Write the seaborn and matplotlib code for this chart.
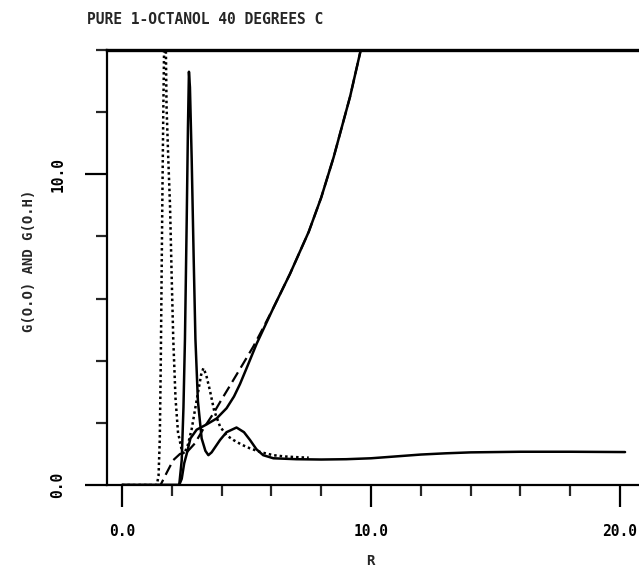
import matplotlib
matplotlib.use("Agg")
import matplotlib.pyplot as plt
import seaborn as sns
from matplotlib.ticker import MultipleLocator

# INPUT VALUES
title = "PURE 1-OCTANOL 40 DEGREES C"
x_label = "R"
y_label = "G(O.O) AND G(O.H)"

# dotted curve: G(O.H)
r_oh = [0.0, 1.40, 1.47, 1.52, 1.56, 1.59, 1.62, 1.66, 1.70, 1.75, 1.79, 1.86, 1.93, 2.00,
        2.06, 2.15, 2.25, 2.40, 2.50, 2.65, 2.80, 2.95, 3.07, 3.18, 3.27, 3.38, 3.53,
        3.70, 3.94, 4.20, 4.47, 4.80, 5.14, 5.60, 6.08, 6.50, 7.15, 7.50]
g_oh = [0.0, 0.0, 0.3, 1.5, 4.0, 6.5, 9.0, 12.0, 14.5, 15.0, 12.2, 10.5, 9.0, 6.6,
        4.7, 2.8, 1.7, 1.13, 1.0, 1.3, 1.8, 2.5, 3.05, 3.55, 3.76, 3.55, 3.05,
        2.4, 1.88, 1.6, 1.45, 1.3, 1.18, 1.05, 0.96, 0.92, 0.89, 0.88]

# solid curve: G(O.O)
r_oo = [0.0, 2.30, 2.40, 2.47, 2.53, 2.60, 2.65, 2.69, 2.73, 2.80, 2.88, 2.95, 3.05,
        3.20, 3.35, 3.47, 3.60, 3.94, 4.20, 4.60, 4.90, 5.14, 5.40, 5.67, 6.08, 7.0,
        8.0, 9.0, 10.0, 11.0, 12.0, 13.0, 14.0, 15.0, 16.0, 18.0, 20.2]
g_oo = [0.0, 0.0, 0.8, 2.5, 4.7, 8.5, 11.5, 13.3, 12.8, 10.5, 7.3, 4.7, 2.7,
        1.5, 1.1, 0.96, 1.05, 1.45, 1.7, 1.85, 1.7, 1.45, 1.15, 0.96, 0.86, 0.83,
        0.82, 0.83, 0.86, 0.92, 0.98, 1.02, 1.05, 1.06, 1.07, 1.07, 1.06]

# solid running integral (O.O)
r_noo = [0.0, 2.30, 2.40, 2.50, 2.60, 2.75, 3.00, 3.40, 3.80, 4.20, 4.50, 4.74, 5.00,
         5.41, 6.08, 6.75, 7.50, 8.00, 8.50, 9.16, 9.56, 9.80]
n_oo = [0.0, 0.0, 0.2, 0.7, 1.0, 1.5, 1.78, 1.95, 2.14, 2.47, 2.85, 3.25, 3.75,
        4.55, 5.7, 6.8, 8.15, 9.25, 10.55, 12.5, 13.9, 14.8]

# dashed running integral (O.H)
r_noh = [0.0, 1.55, 1.80, 2.06, 2.33, 2.60, 2.93, 3.30, 3.67, 4.00, 4.34, 4.87, 5.27,
         5.60, 6.08, 6.75, 7.50, 8.00, 8.50, 9.16, 9.56, 9.80]
n_oh = [0.0, 0.0, 0.4, 0.8, 1.0, 1.05, 1.34, 1.85, 2.3, 2.75, 3.2, 3.91, 4.45,
        4.95, 5.7, 6.8, 8.15, 9.25, 10.55, 12.5, 13.9, 14.8]

sns.set_style("ticks")
plt.rcParams['font.family'] = ['DejaVu Sans Mono', 'DejaVu Sans']
plt.rcParams['font.weight'] = 'bold'

fig = plt.figure(figsize=(6.39, 5.70), dpi=100)
ax = fig.add_axes([107 / 639, 85 / 570, 1 - 107 / 639, 435 / 570])

# Plot curves
sns.lineplot(x=r_oo, y=g_oo, ax=ax, color='black', linewidth=1.8, sort=False, estimator=None)
sns.lineplot(x=r_noo, y=n_oo, ax=ax, color='black', linewidth=1.8, sort=False, estimator=None)
sns.lineplot(x=r_oh, y=g_oh, ax=ax, color='black', linewidth=1.8, linestyle=(0, (1, 1.2)),
             sort=False, estimator=None)
sns.lineplot(x=r_noh, y=n_oh, ax=ax, color='black', linewidth=1.6, linestyle=(0, (5, 2.5)),
             sort=False, estimator=None)

ax.set_xlim(-0.6, 20.76)
ax.set_ylim(0, 14)

ax.xaxis.set_major_locator(MultipleLocator(10))
ax.xaxis.set_minor_locator(MultipleLocator(2))
ax.yaxis.set_major_locator(MultipleLocator(10))
ax.yaxis.set_minor_locator(MultipleLocator(2))
ax.xaxis.set_major_formatter(plt.FuncFormatter(lambda v, p: "%.1f" % v))
ax.yaxis.set_major_formatter(plt.FuncFormatter(lambda v, p: "%.1f" % v))

ax.tick_params(axis='both', which='major', length=16, width=1.6, direction='out',
               labelsize=10.5, colors='black')
ax.tick_params(axis='both', which='minor', length=8, width=1.6, direction='out')
ax.tick_params(axis='x', which='major', pad=12)
ax.tick_params(axis='y', which='major', pad=14, labelrotation=90)
for lbl in ax.get_yticklabels():
    lbl.set_va('center')

for side in ['left', 'bottom']:
    ax.spines[side].set_linewidth(1.6)
    ax.spines[side].set_color('black')
ax.spines['top'].set_linewidth(2.4)
ax.spines['top'].set_color('black')
ax.spines['right'].set_visible(False)

ax.set_xlabel("")
ax.set_ylabel("")
fig.text(87 / 639, 1 - 19 / 570, title, fontsize=10.5, ha='left', va='center')
fig.text(370 / 639, 1 - 561 / 570, x_label, fontsize=10, ha='center', va='center')
fig.text(29 / 639, 1 - 261 / 570, y_label, fontsize=10, rotation=90, ha='center', va='center')

fig.savefig("out.png", dpi=100)
